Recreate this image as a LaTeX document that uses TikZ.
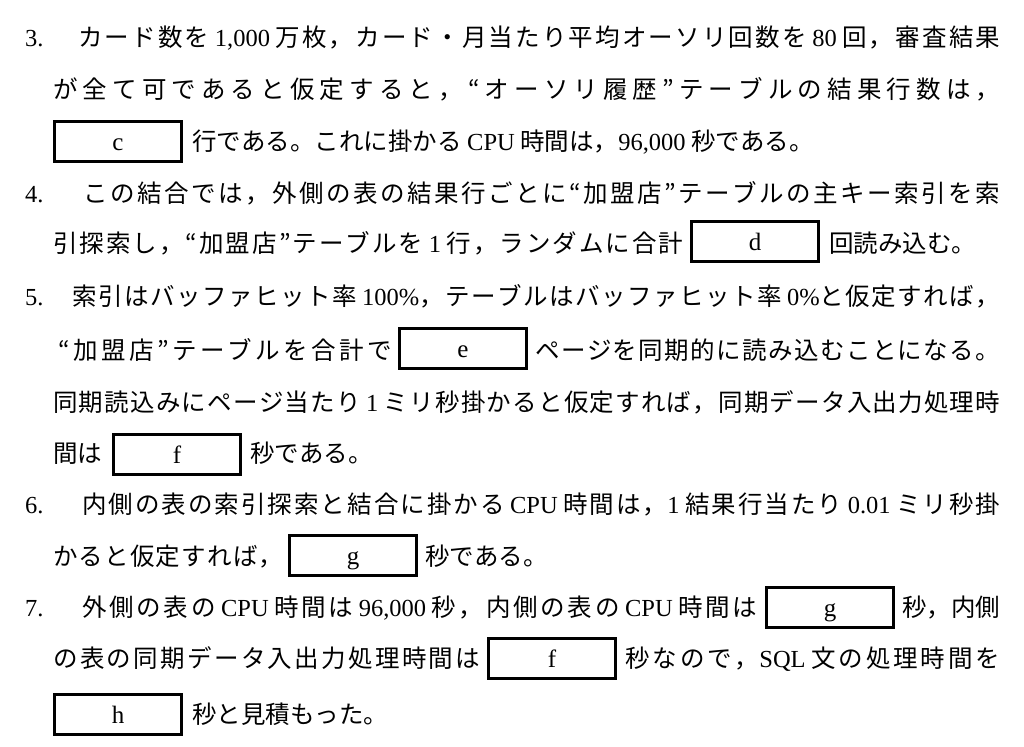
\documentclass[tikz,border=0pt]{standalone}
\usepackage{fontspec}
\setmainfont{Liberation Serif}
\newfontfamily\jpfont{Noto Sans CJK JP}
\newcommand\latn[1]{{\rmfamily #1}}
% inter-character glue between Japanese characters (for justified lines)
\XeTeXinterchartokenstate=1
\newXeTeXintercharclass\jpc
\newcount\jpcnt
\newcommand\setjpclass[2]{\jpcnt=#1\relax\loop\XeTeXcharclass\jpcnt=\jpc\relax\ifnum\jpcnt<#2\relax\advance\jpcnt by 1\relax\repeat}
\setjpclass{"3000}{"30FF}
\setjpclass{"4E00}{"9FFF}
\setjpclass{"FF00}{"FF5E}
\XeTeXcharclass"201C=\jpc
\XeTeXcharclass"201D=\jpc
\XeTeXinterchartoks\jpc\jpc={\hskip0pt plus 1fil\relax}
\tikzset{
  seg/.style={anchor=base west, inner sep=0pt, font=\jpfont\fontsize{24.5}{30}\selectfont},
  num/.style={anchor=base west, inner sep=0pt, font=\rmfamily\fontsize{24.5}{30}\selectfont},
  blank/.style={draw, line width=3pt, minimum width=127pt, minimum height=40pt, inner sep=0pt,
    font=\rmfamily\fontsize{25}{30}\selectfont, text height=20pt, text depth=2pt}
}
\begin{document}
\begin{tikzpicture}[x=1pt,y=-1pt]
\useasboundingbox[fill=white] (0,0) rectangle (1024,746);
% item 3
\node[num] (n3) at (25,47) {3.};
\node[seg] (l0) at (78,47) {\makebox[922pt][s]{カード数を \latn{1,000} 万枚，カード・月当たり平均オーソリ回数を \latn{80} 回，審査結果}};
\node[seg] (l1) at (53,99) {\makebox[947pt][s]{が全て可であると仮定すると，“オーソリ履歴”テーブルの結果行数は，}};
\node[blank] (bc) at (118,141.5) {c};
\node[seg] (l2) at (192,151) {行である。これに掛かる \latn{CPU} 時間は，\latn{96,000} 秒である。};
% item 4
\node[num] (n4) at (25,202) {4.};
\node[seg] (l3) at (83,202) {\makebox[917pt][s]{この結合では，外側の表の結果行ごとに“加盟店”テーブルの主キー索引を索}};
\node[seg] (l4a) at (53,252) {\makebox[630pt][s]{引探索し，“加盟店”テーブルを \latn{1} 行，ランダムに合計}};
\node[blank] (bd) at (755,241.5) {d};
\node[seg] (l4b) at (829,252) {回読み込む。};
% item 5
\node[num] (n5) at (25,305) {5.};
\node[seg] (l5) at (72,305) {\makebox[928pt][s]{索引はバッファヒット率 \latn{100\%}，テーブルはバッファヒット率 \latn{0\%}と仮定すれば，}};
\node[seg] (l6a) at (58,359) {\makebox[334pt][s]{“加盟店”テーブルを合計で}};
\node[blank] (be) at (463,348.5) {e};
\node[seg] (l6b) at (535,359) {\makebox[465pt][s]{ページを同期的に読み込むことになる。}};
\node[seg] (l7) at (53,411) {\makebox[947pt][s]{同期読込みにページ当たり \latn{1} ミリ秒掛かると仮定すれば，同期データ入出力処理時}};
\node[seg] (l8a) at (53,462) {間は};
\node[blank] (bf) at (177,454) {f};
\node[seg] (l8b) at (250,462) {秒である。};
% item 6
\node[num] (n6) at (25,513) {6.};
\node[seg] (l9) at (82,513) {\makebox[918pt][s]{内側の表の索引探索と結合に掛かる \latn{CPU} 時間は，\latn{1} 結果行当たり \latn{0.01} ミリ秒掛}};
\node[seg] (l10a) at (53,565) {\makebox[230pt][s]{かると仮定すれば，}};
\node[blank] (bg) at (353,555) {g};
\node[seg] (l10b) at (425,565) {秒である。};
% item 7
\node[num] (n7) at (25,616) {7.};
\node[seg] (l11a) at (82,616) {\makebox[675pt][s]{外側の表の \latn{CPU} 時間は \latn{96,000} 秒，内側の表の \latn{CPU} 時間は}};
\node[blank] (bg2) at (830,607) {g};
\node[seg] (l11b) at (902,616) {\makebox[98pt][s]{秒，内側}};
\node[seg] (l12a) at (53,667) {\makebox[427pt][s]{の表の同期データ入出力処理時間は}};
\node[blank] (bf2) at (552,658) {f};
\node[seg] (l12b) at (625,667) {\makebox[375pt][s]{秒なので，\latn{SQL} 文の処理時間を}};
\node[blank] (bh) at (118,714) {h};
\node[seg] (l13) at (192,723) {秒と見積もった。};
\end{tikzpicture}
\end{document}
